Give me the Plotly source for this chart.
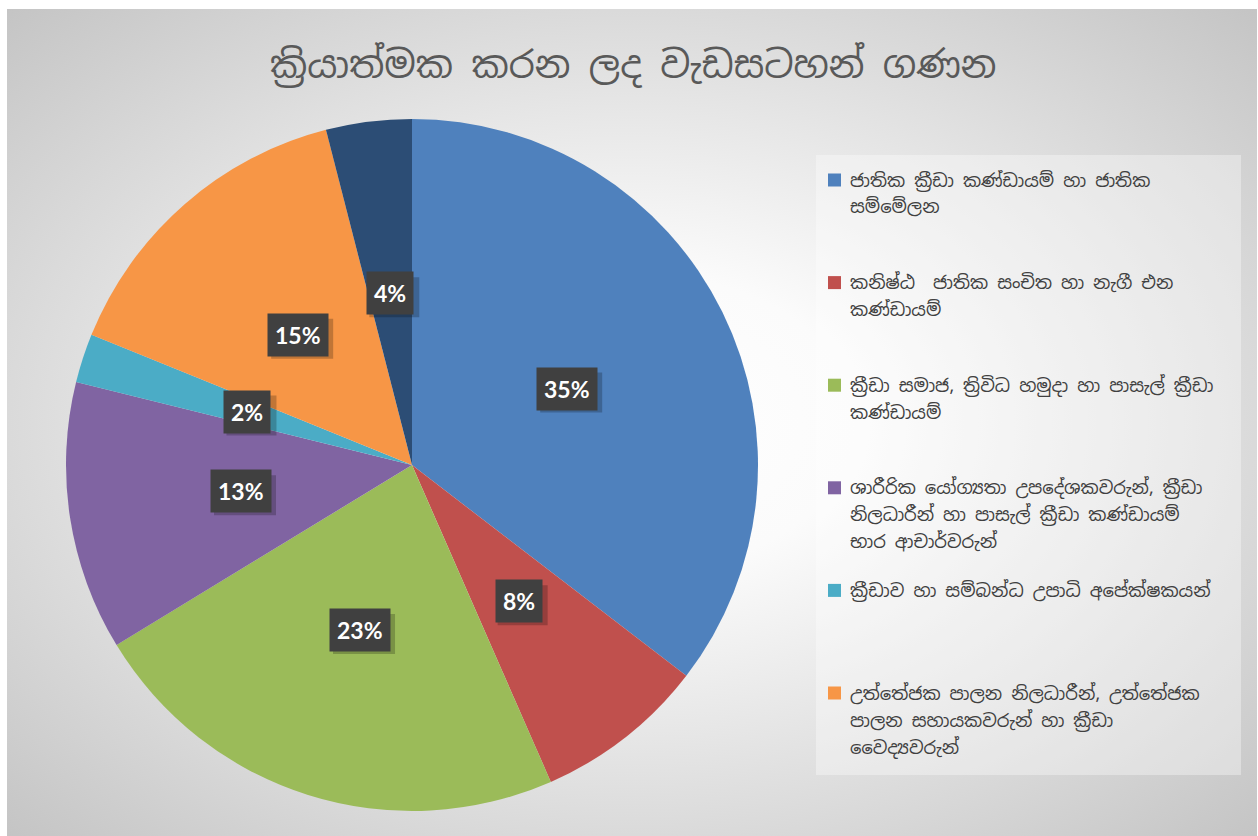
import base64
import math
import plotly.graph_objects as go

# Programme counts by target group (share of total)
title = "ක්‍රියාත්මක කරන ලද වැඩසටහන් ගණන"
labels = [
    "ජාතික ක්‍රීඩා කණ්ඩායම් හා ජාතික\nසම්මේලන",
    "කනිෂ්ඨ  ජාතික සංචිත හා නැගී එන\nකණ්ඩායම්",
    "ක්‍රීඩා සමාජ, ත්‍රිවිධ හමුදා හා පාසැල් ක්‍රීඩා\nකණ්ඩායම්",
    "ශාරීරික යෝග්‍යතා උපදේශකවරුන්, ක්‍රීඩා\nනිලධාරීන් හා පාසැල් ක්‍රීඩා කණ්ඩායම්\nභාර ආචාර්වරුන්",
    "ක්‍රීඩාව හා සම්බන්ධ උපාධි අපේක්ෂකයන්",
    "උත්තේජක පාලන නිලධාරීන්, උත්තේජක\nපාලන සහායකවරුන් හා ක්‍රීඩා\nවෛද්‍යවරුන්",
    "වෙනත්",
]
values = [62, 14, 40, 22, 4, 26, 7]
colors = ["#4F81BD", "#C0504D", "#9BBB59", "#8064A2", "#4BACC6", "#F79646", "#2C4D75"]

W, H = 1258, 836
FONT = "Noto Sans Sinhala, Iskoola Pota, Noto Sans, sans-serif"

# pie placement in pixels
cx, cy, r = 412, 465, 346

fig = go.Figure(go.Pie(
    labels=[l.replace("\n", " ") for l in labels],
    values=values,
    marker=dict(colors=colors, line=dict(width=0)),
    sort=False,
    direction="clockwise",
    textinfo="none",
    showlegend=False,
    domain=dict(x=[(cx - r) / W, (cx + r) / W], y=[1 - (cy + r) / H, 1 - (cy - r) / H]),
))

# radial gradient background as an inline svg
svg = (
    '<svg xmlns="http://www.w3.org/2000/svg" width="1250" height="827" preserveAspectRatio="none">'
    '<defs><radialGradient id="g" cx="0.5" cy="0.5" r="0.72">'
    '<stop offset="0" stop-color="#ffffff"/><stop offset="0.25" stop-color="#fbfbfb"/>'
    '<stop offset="1" stop-color="#c3c3c3"/></radialGradient></defs>'
    '<rect width="1250" height="827" fill="url(#g)"/></svg>'
)
src = "data:image/svg+xml;base64," + base64.b64encode(svg.encode()).decode()
fig.add_layout_image(dict(source=src, xref="paper", yref="paper", x=7 / W, y=1 - 9 / H,
                          sizex=1250 / W, sizey=827 / H, sizing="stretch", layer="below",
                          xanchor="left", yanchor="top"))

# legend panel
fig.add_shape(type="rect", xref="paper", yref="paper", x0=816 / W, x1=1241 / W,
              y0=1 - 775 / H, y1=1 - 155 / H, fillcolor="rgba(255,255,255,0.35)",
              line=dict(width=0), layer="below")

annotations = []
total = sum(values)
cum = 0
for v in values:
    mid = (cum + v / 2) / total * 2 * math.pi
    cum += v
    px_ = cx + 0.5 * r * math.sin(mid)
    py_ = cy - 0.5 * r * math.cos(mid)
    txt = f"{round(v / total * 100)}%"
    # soft shadow behind the label box
    hw = 31 if len(txt) > 2 else 25
    fig.add_shape(type="rect", xref="paper", yref="paper",
                  x0=(px_ - hw + 4) / W, x1=(px_ + hw + 4) / W,
                  y0=1 - (py_ + 20 + 4) / H, y1=1 - (py_ - 20 + 4) / H,
                  fillcolor="rgba(0,0,0,0.22)", line=dict(width=0))
    annotations.append(dict(x=px_ / W, y=1 - py_ / H, xref="paper", yref="paper",
                            showarrow=False, xanchor="center", yanchor="middle", borderpad=7,
                            text=f"<b>{txt}</b>", bgcolor="#404040",
                            font=dict(family="Lato", size=23, color="white")))

# custom legend (the last category is cut off in the original)
for i, (lab, col) in enumerate(zip(labels[:6], colors[:6])):
    y0 = 180 + i * 102.6
    fig.add_shape(type="rect", xref="paper", yref="paper", x0=828 / W, x1=841 / W,
                  y0=1 - (y0 + 6.5) / H, y1=1 - (y0 - 6.5) / H, fillcolor=col, line=dict(width=0))
    for j, line in enumerate(lab.split("\n")):
        annotations.append(dict(x=848 / W, y=1 - (y0 + j * 27) / H, xref="paper", yref="paper",
                                text=line, showarrow=False, xanchor="left", yanchor="middle",
                                font=dict(family=FONT, size=18, color="#404040")))

annotations.append(dict(x=633 / W, y=1 - 65 / H, xref="paper", yref="paper", text=title,
                        showarrow=False, xanchor="center", yanchor="middle",
                        font=dict(family=FONT, size=37, color="#595959")))

fig.update_layout(width=W, height=H, margin=dict(l=0, r=0, t=0, b=0),
                  paper_bgcolor="white", plot_bgcolor="white", annotations=annotations)

fig.write_html("out.html", config={"displayModeBar": False},
               post_script="document.body.style.margin='0';")
